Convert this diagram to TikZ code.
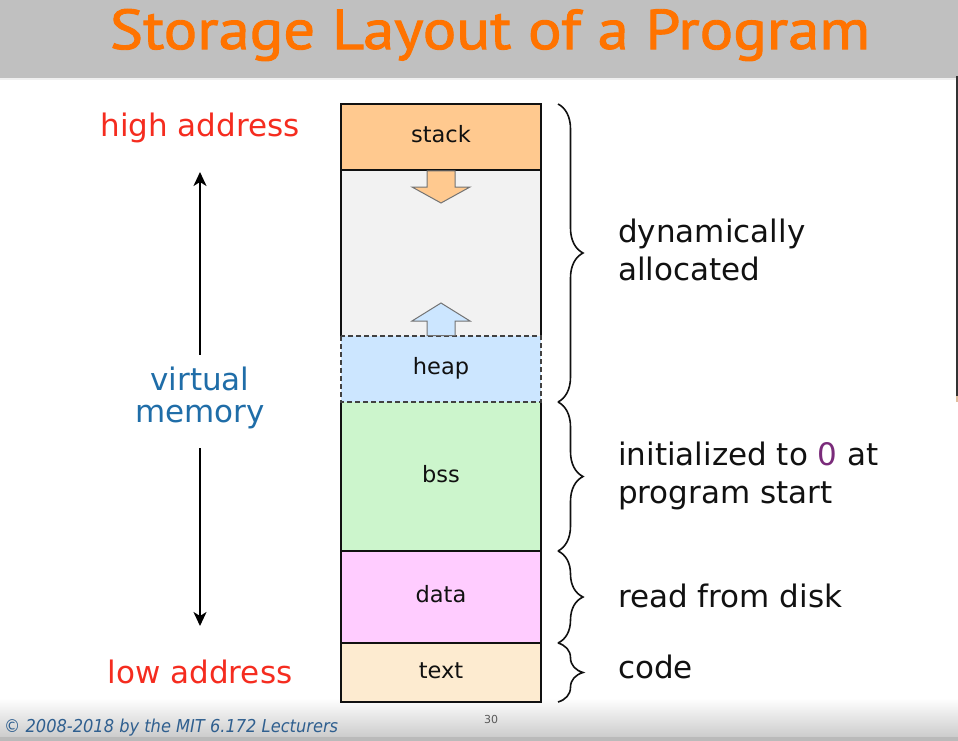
\documentclass[tikz,border=0pt]{standalone}
\usepackage{fontspec}
\usepackage{graphicx}
\setmainfont{DejaVu Sans}
\newfontfamily\titlefont[FakeBold=1.6]{PT Sans}
\usetikzlibrary{decorations.pathreplacing,arrows.meta}

\definecolor{barc}{HTML}{C0C0C0}
\definecolor{titlec}{HTML}{FF7300}
\definecolor{stackc}{HTML}{FFC98F}
\definecolor{freec}{HTML}{F2F2F2}
\definecolor{heapc}{HTML}{CCE6FF}
\definecolor{bssc}{HTML}{CCF5CC}
\definecolor{datac}{HTML}{FFCCFF}
\definecolor{textc}{HTML}{FDEBD0}
\definecolor{addrc}{HTML}{F52C1F}
\definecolor{vmc}{HTML}{1F6DA8}
\definecolor{zeroc}{HTML}{7A2B7A}
\definecolor{footc}{HTML}{2F5F8F}
\definecolor{inkc}{HTML}{111111}

\tikzset{
  region/.style={minimum width=200pt, inner sep=0pt, outer sep=0pt,
    text height=1.1em, text depth=0pt, text=inkc,
    font=\fontsize{22.5}{27}\selectfont},
  edge/.style={line width=1.5pt, draw=inkc},
  heapedge/.style={line width=1.1pt, draw=inkc!80, dash pattern=on 5pt off 3pt},
  blockarrow/.style={line width=1pt, draw=black!55},
  curly/.style={line width=1.6pt, draw=inkc,
    decorate, decoration={brace, amplitude=25pt}},
  note/.style={anchor=north west, inner sep=0pt, align=left, text=inkc,
    font=\fontsize{31}{38.5}\selectfont},
  addr/.style={inner sep=0pt, text=addrc, font=\fontsize{31}{37}\selectfont},
  dirarrow/.style={line width=2pt, draw=black,
    -{Stealth[length=14pt, width=13pt, inset=4pt]}}
}

\begin{document}
\begin{tikzpicture}[x=1pt, y=-1pt]
\useasboundingbox (0,0) rectangle (958,741);
\fill[white] (0,0) rectangle (958,741);

% title bar
\fill[barc] (0,0) rectangle (958,78);
\fill[black!6] (0,78) rectangle (958,80);
\node[inner sep=0pt, text=titlec] (title) at (490,35)
  {\resizebox*{760pt}{52pt}{\titlefont Storage Layout of a Program}};

% footer band
\shade[top color=white, bottom color=black!20] (0,698) rectangle (958,737);
\fill[black!27] (0,737) rectangle (958,741);
\node[inner sep=0pt, anchor=base west, text=footc] (copy) at (4,732)
  {\resizebox{334pt}{13.5pt}{\itshape\fontsize{17}{20}\selectfont © 2008-2018 by the MIT 6.172 Lecturers}};
\node[inner sep=0pt, anchor=base, text=black!65, font=\fontsize{11}{13}\selectfont] (page) at (491,723) {30};

% thin strip along the right edge
\fill[black!80] (956,76) rectangle (958,396);
\fill[brown!50] (956,396) rectangle (958,402);

% memory regions
\node[region, fill=stackc, minimum height=66pt]  (stack) at (441,137)   {stack};
\node[region, fill=freec,  minimum height=166pt] (free)  at (441,253)   {};
\node[region, fill=heapc,  minimum height=66pt]  (heap)  at (441,369)   {heap};
\node[region, fill=bssc,   minimum height=149pt] (bss)   at (441,476.5) {bss};
\node[region, fill=datac,  minimum height=92pt]  (data)  at (441,597)   {data};
\node[region, fill=textc,  minimum height=59pt]  (text)  at (441,672.5) {text};

% region outlines
\draw[edge] (free.south west) -- (stack.north west) -- (stack.north east) -- (free.south east);
\draw[edge] (stack.south west) -- (stack.south east);
\draw[edge] (bss.north west) -- (text.south west) -- (text.south east) -- (bss.north east);
\draw[edge] (data.north west) -- (data.north east);
\draw[edge] (text.north west) -- (text.north east);
\draw[heapedge] (heap.north west) rectangle (heap.south east);

% growth arrows
\draw[blockarrow, fill=stackc]
  (427,170.8) -- (455,170.8) -- (455,187) -- (470,187) -- (441,203)
  -- (412,187) -- (427,187) -- cycle;
\draw[blockarrow, fill=heapc]
  (427,335.5) -- (455,335.5) -- (455,321) -- (470,321) -- (441,303)
  -- (412,321) -- (427,321) -- cycle;

% braces
\draw[curly] ([xshift=17pt]stack.north east) -- ([xshift=17pt]heap.south east);
\draw[curly] ([xshift=17pt]bss.north east) -- ([xshift=17pt]bss.south east);
\draw[curly] ([xshift=17pt]data.north east) -- ([xshift=17pt]data.south east);
\draw[curly] ([xshift=17pt]text.north east) -- ([xshift=17pt]text.south east);

% descriptions
\node[note] (dyn)  at (618,218.5) {dynamically\\allocated};
\node[note] (init) at (618,441.5) {initialized to \textcolor{zeroc}{0} at\\program start};
\node[note] (disk) at (618,583.5) {read from disk};
\node[note] (code) at (618,654.5) {code};

% address axis
\node[addr, anchor=base] (high) at (200,137) {high address};
\node[addr, anchor=base] (low)  at (200,683) {low address};
\node[inner sep=0pt, align=center, text=vmc,
  font=\fontsize{31}{32}\selectfont] (vm) at (200,398) {virtual\\memory};
\coordinate (vtop) at (200,172);
\coordinate (vbot) at (200,626);
\draw[dirarrow] ([yshift=12pt]vm.north) -- (vtop);
\draw[dirarrow] ([yshift=-19pt]vm.south) -- (vbot);
\end{tikzpicture}
\end{document}
